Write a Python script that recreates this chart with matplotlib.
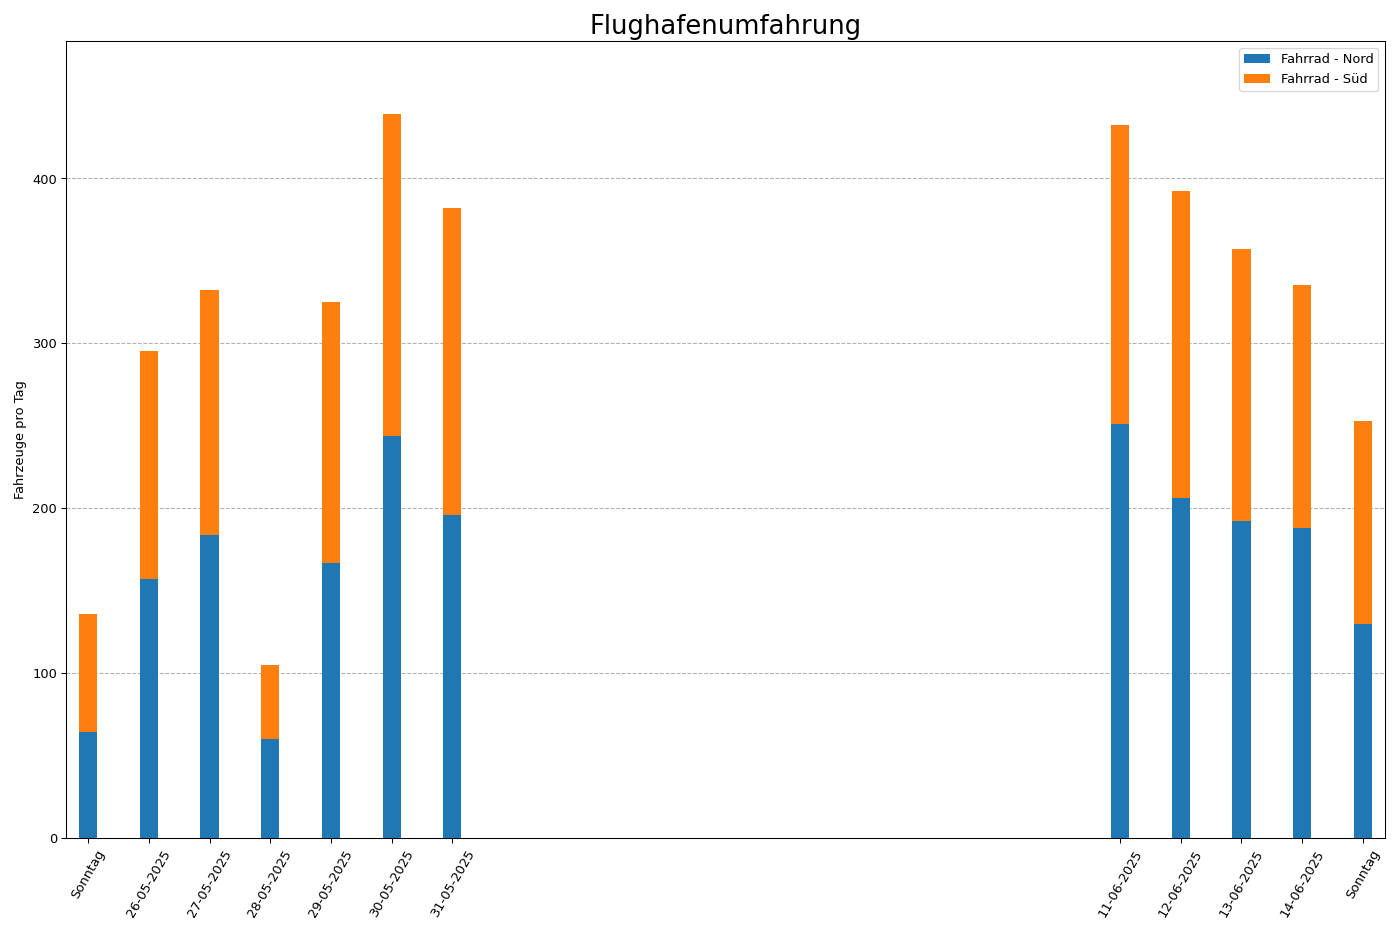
import matplotlib

matplotlib.use("Agg")
import matplotlib.pyplot as plt
import pandas as pd

days = ["2025-05-25", "2025-05-26", "2025-05-27", "2025-05-28", "2025-05-29",
        "2025-05-30", "2025-05-31", "2025-06-11", "2025-06-12", "2025-06-13",
        "2025-06-14", "2025-06-15"]
nord = [64, 157, 184, 60, 167, 244, 196, 251, 206, 192, 188, 130]
sued = [72, 138, 148, 45, 158, 195, 186, 181, 186, 165, 147, 123]

dates = pd.to_datetime(days)
totals = [n + s for n, s in zip(nord, sued)]
labels = ["Sonntag" if d.dayofweek == 6 else d.strftime("%d-%m-%Y") for d in dates]

dpi = 1400 / 15
fig, ax = plt.subplots(figsize=(15, 10), dpi=dpi)
ax.bar(dates, nord, width=0.3, color="#1f77b4", label="Fahrrad - Nord", zorder=3)
ax.bar(dates, sued, width=0.3, bottom=nord, color="#ff7f0e", label="Fahrrad - Süd", zorder=3)

ax.set_xticks(dates)
ax.set_xticklabels(labels, rotation=60)
ax.margins(x=0.01)
ax.set_ylim(0, max(totals) * 1.1)
ax.grid(axis="y", linestyle="--", color="#b0b0b0", linewidth=0.8, zorder=0)
ax.set_ylabel("Fahrzeuge pro Tag")
ax.set_title("Flughafenumfahrung", fontsize=20)
ax.legend(loc="upper right")

fig.tight_layout()
fig.savefig("out.png", dpi=dpi)
plt.close(fig)
